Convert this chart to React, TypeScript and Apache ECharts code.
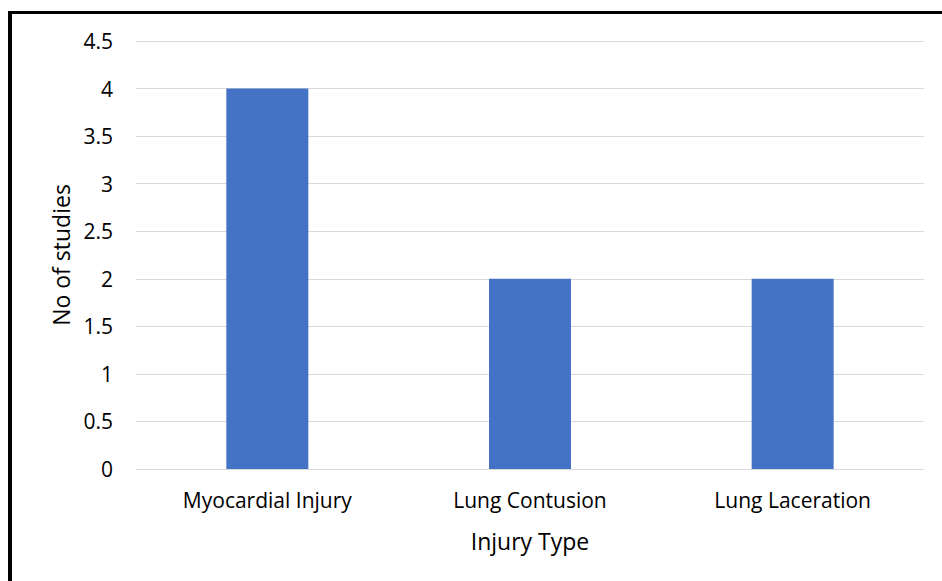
import React, { useEffect, useRef } from "react";
import * as echarts from "echarts";

const categories = ["Myocardial Injury", "Lung Contusion", "Lung Laceration"];
const studies = [4, 2, 2];
const yTicksMax = 4.5;
const yInterval = 0.5;

const FONT = "'Open Sans', Lato, sans-serif";

export default function App() {
  const ref = useRef<HTMLDivElement>(null);
  useEffect(() => {
    if (!ref.current) return;
    const chart = echarts.init(ref.current, null, { renderer: "svg" });
    chart.setOption({
      animation: false,
      backgroundColor: "transparent",
      grid: { left: 136, right: 18, top: 41, bottom: 112, containLabel: false },
      xAxis: {
        type: "category",
        data: categories,
        name: "Injury Type",
        nameLocation: "middle",
        nameGap: 60,
        nameTextStyle: { fontFamily: FONT, fontSize: 23, color: "#000" },
        axisLine: { show: true, lineStyle: { color: "#d9d9d9", width: 1 } },
        axisTick: { show: false },
        axisLabel: { fontFamily: FONT, fontSize: 21, color: "#000", margin: 20 },
      },
      yAxis: {
        type: "value",
        min: 0,
        max: yTicksMax,
        interval: yInterval,
        name: "No of studies",
        nameLocation: "middle",
        nameGap: 64,
        nameTextStyle: { fontFamily: FONT, fontSize: 23, color: "#000" },
        axisLine: { show: false },
        axisTick: { show: false },
        splitLine: { lineStyle: { color: "#d9d9d9", width: 1 } },
        axisLabel: { fontFamily: FONT, fontSize: 21, color: "#000", margin: 23 },
      },
      series: [
        {
          type: "bar",
          data: studies,
          barWidth: 82,
          itemStyle: { color: "#4472C4" },
        },
      ],
    });
    return () => chart.dispose();
  }, []);
  return (
    <div style={{ position: "fixed", left: 0, top: 0, width: 942, height: 581, background: "#fff" }}>
      <div
        style={{
          position: "absolute",
          left: 8,
          top: 11,
          right: -10,
          bottom: -10,
          borderLeft: "4px solid #000",
          borderTop: "3px solid #000",
          boxSizing: "border-box",
        }}
      />
      <div ref={ref} style={{ position: "absolute", left: 0, top: 0, width: 942, height: 581 }} />
    </div>
  );
}
